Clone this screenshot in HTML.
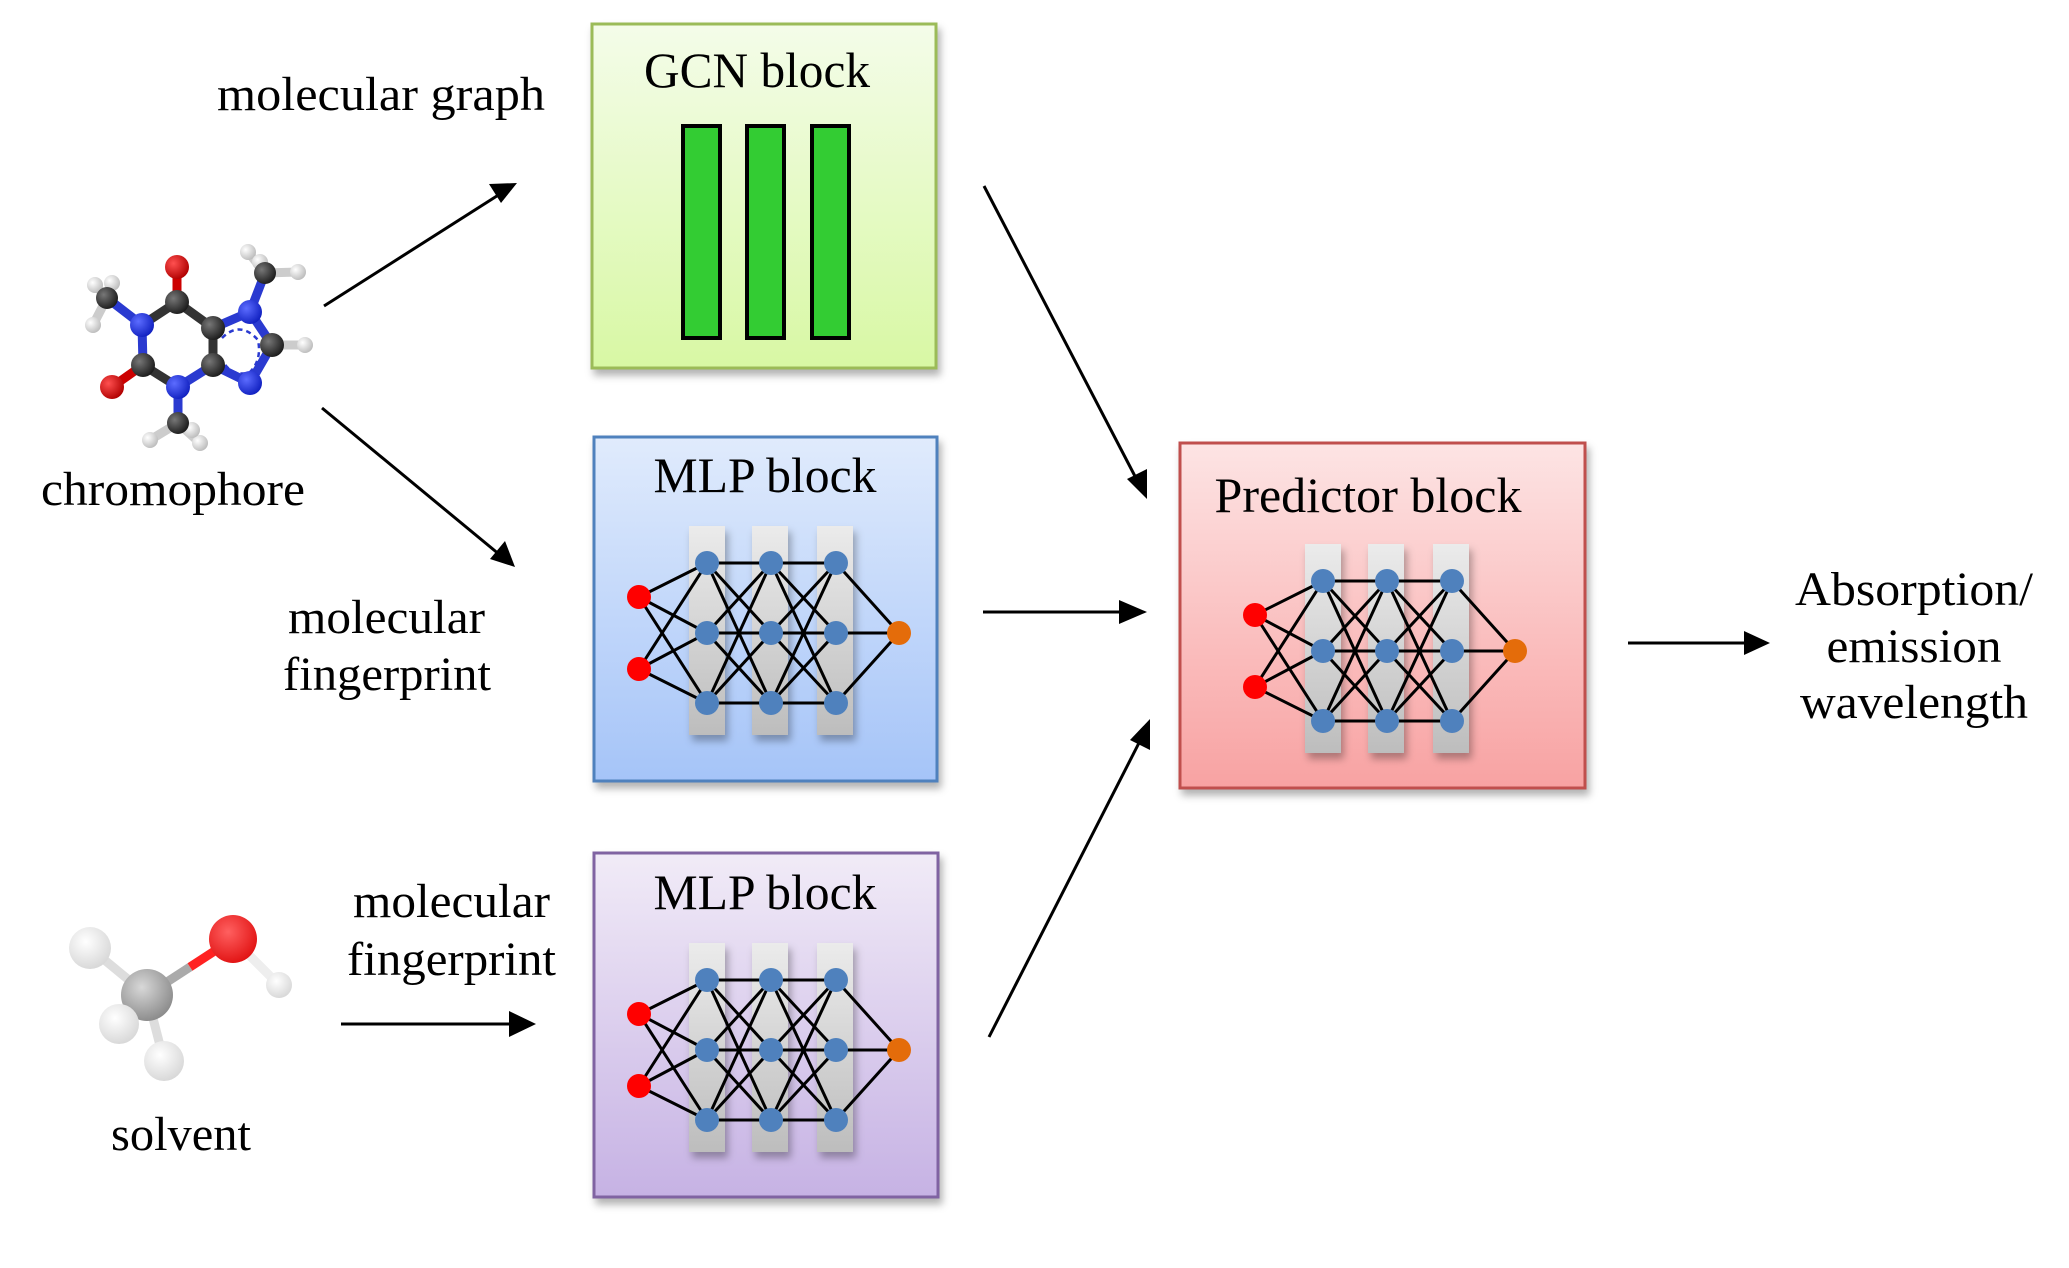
<!DOCTYPE html>
<html><head><meta charset="utf-8"><style>
html,body{margin:0;padding:0;background:#fff}
svg{display:block}
text{font-family:"Liberation Serif",serif;fill:#000}
</style></head><body>
<svg width="2069" height="1268" viewBox="0 0 2069 1268" xmlns="http://www.w3.org/2000/svg">
<defs>
<linearGradient id="gG" x1="0" y1="0" x2="0" y2="1"><stop offset="0" stop-color="#f4fce9"/><stop offset="1" stop-color="#d8f8a4"/></linearGradient>
<linearGradient id="gB" x1="0" y1="0" x2="0" y2="1"><stop offset="0" stop-color="#e0ebfc"/><stop offset="1" stop-color="#a5c4f8"/></linearGradient>
<linearGradient id="gP" x1="0" y1="0" x2="0" y2="1"><stop offset="0" stop-color="#f1ebf7"/><stop offset="1" stop-color="#c6b2e4"/></linearGradient>
<linearGradient id="gR" x1="0" y1="0" x2="0" y2="1"><stop offset="0" stop-color="#fde4e4"/><stop offset="1" stop-color="#f8a2a2"/></linearGradient>
<linearGradient id="gC" x1="0" y1="0" x2="0" y2="1"><stop offset="0" stop-color="#ebebeb"/><stop offset="1" stop-color="#bdbdbd"/></linearGradient>
<radialGradient id="aC" cx="0.35" cy="0.35" r="0.7"><stop offset="0" stop-color="#777"/><stop offset="1" stop-color="#1a1a1a"/></radialGradient>
<radialGradient id="aN" cx="0.35" cy="0.35" r="0.7"><stop offset="0" stop-color="#5c6cff"/><stop offset="1" stop-color="#1020c0"/></radialGradient>
<radialGradient id="aO" cx="0.35" cy="0.35" r="0.7"><stop offset="0" stop-color="#ff5050"/><stop offset="1" stop-color="#b00000"/></radialGradient>
<radialGradient id="aH" cx="0.35" cy="0.35" r="0.7"><stop offset="0" stop-color="#fff"/><stop offset="1" stop-color="#bbb"/></radialGradient>
<radialGradient id="sO" cx="0.4" cy="0.35" r="0.7"><stop offset="0" stop-color="#ff6060"/><stop offset="1" stop-color="#e01010"/></radialGradient>
<radialGradient id="sC" cx="0.4" cy="0.35" r="0.7"><stop offset="0" stop-color="#d8d8d8"/><stop offset="1" stop-color="#888"/></radialGradient>
<radialGradient id="sH" cx="0.4" cy="0.35" r="0.7"><stop offset="0" stop-color="#fff"/><stop offset="1" stop-color="#d6d6d6"/></radialGradient>
<filter id="sh" x="-10%" y="-10%" width="130%" height="130%"><feDropShadow dx="3" dy="6" stdDeviation="4" flood-color="#000" flood-opacity="0.3"/></filter>
<g id="nn">
  <g filter="url(#sh)">
  <rect x="50" y="0" width="36" height="209" fill="url(#gC)"/>
  <rect x="113" y="0" width="36" height="209" fill="url(#gC)"/>
  <rect x="178" y="0" width="36" height="209" fill="url(#gC)"/>
  </g>
  <g stroke="#000" stroke-width="3">
  <line x1="0" y1="71" x2="68" y2="37"/><line x1="0" y1="71" x2="68" y2="107"/><line x1="0" y1="71" x2="68" y2="177"/>
  <line x1="0" y1="143" x2="68" y2="37"/><line x1="0" y1="143" x2="68" y2="107"/><line x1="0" y1="143" x2="68" y2="177"/>
  <line x1="68" y1="37" x2="132" y2="37"/><line x1="68" y1="37" x2="132" y2="107"/><line x1="68" y1="37" x2="132" y2="177"/>
  <line x1="68" y1="107" x2="132" y2="37"/><line x1="68" y1="107" x2="132" y2="107"/><line x1="68" y1="107" x2="132" y2="177"/>
  <line x1="68" y1="177" x2="132" y2="37"/><line x1="68" y1="177" x2="132" y2="107"/><line x1="68" y1="177" x2="132" y2="177"/>
  <line x1="132" y1="37" x2="197" y2="37"/><line x1="132" y1="37" x2="197" y2="107"/><line x1="132" y1="37" x2="197" y2="177"/>
  <line x1="132" y1="107" x2="197" y2="37"/><line x1="132" y1="107" x2="197" y2="107"/><line x1="132" y1="107" x2="197" y2="177"/>
  <line x1="132" y1="177" x2="197" y2="37"/><line x1="132" y1="177" x2="197" y2="107"/><line x1="132" y1="177" x2="197" y2="177"/>
  <line x1="197" y1="37" x2="260" y2="107"/><line x1="197" y1="107" x2="260" y2="107"/><line x1="197" y1="177" x2="260" y2="107"/>
  </g>
  <g fill="#4f81bd">
  <circle cx="68" cy="37" r="12"/><circle cx="68" cy="107" r="12"/><circle cx="68" cy="177" r="12"/>
  <circle cx="132" cy="37" r="12"/><circle cx="132" cy="107" r="12"/><circle cx="132" cy="177" r="12"/>
  <circle cx="197" cy="37" r="12"/><circle cx="197" cy="107" r="12"/><circle cx="197" cy="177" r="12"/>
  </g>
  <circle cx="0" cy="71" r="12" fill="#f00"/><circle cx="0" cy="143" r="12" fill="#f00"/>
  <circle cx="260" cy="107" r="12" fill="#e46c0a"/>
</g>
</defs>

<rect x="592" y="24" width="344" height="344" fill="url(#gG)" stroke="#9bbb59" stroke-width="3" filter="url(#sh)"/>
<rect x="594" y="437" width="343" height="344" fill="url(#gB)" stroke="#4f81bd" stroke-width="3" filter="url(#sh)"/>
<rect x="594" y="853" width="344" height="344" fill="url(#gP)" stroke="#8064a2" stroke-width="3" filter="url(#sh)"/>
<rect x="1180" y="443" width="405" height="345" fill="url(#gR)" stroke="#c0504d" stroke-width="3" filter="url(#sh)"/>

<g fill="#33cc33" stroke="#000" stroke-width="4">
<rect x="683" y="126" width="37" height="212"/>
<rect x="747" y="126" width="37" height="212"/>
<rect x="812" y="126" width="37" height="212"/>
</g>

<use href="#nn" x="639" y="526"/>
<use href="#nn" x="639" y="943"/>
<use href="#nn" x="1255" y="544"/>

<text x="757" y="87" font-size="50" text-anchor="middle" textLength="226" lengthAdjust="spacingAndGlyphs">GCN block</text>
<text x="765" y="492" font-size="50" text-anchor="middle" textLength="223" lengthAdjust="spacingAndGlyphs">MLP block</text>
<text x="765" y="909" font-size="50" text-anchor="middle" textLength="223" lengthAdjust="spacingAndGlyphs">MLP block</text>
<text x="1368" y="512" font-size="50" text-anchor="middle" textLength="307" lengthAdjust="spacingAndGlyphs">Predictor block</text>

<text x="217" y="110" font-size="48" textLength="328" lengthAdjust="spacingAndGlyphs">molecular  graph</text>
<text x="41" y="505" font-size="48" textLength="264" lengthAdjust="spacingAndGlyphs">chromophore</text>
<text x="288" y="633" font-size="48" textLength="197" lengthAdjust="spacingAndGlyphs">molecular</text>
<text x="283" y="690" font-size="48" textLength="208" lengthAdjust="spacingAndGlyphs">fingerprint</text>
<text x="353" y="917" font-size="48" textLength="197" lengthAdjust="spacingAndGlyphs">molecular</text>
<text x="347" y="975" font-size="48" textLength="209" lengthAdjust="spacingAndGlyphs">fingerprint</text>
<text x="111" y="1150" font-size="48" textLength="140" lengthAdjust="spacingAndGlyphs">solvent</text>
<text x="1914" y="605" font-size="48" text-anchor="middle" textLength="238" lengthAdjust="spacingAndGlyphs">Absorption/</text>
<text x="1914" y="662" font-size="48" text-anchor="middle" textLength="175" lengthAdjust="spacingAndGlyphs">emission</text>
<text x="1914" y="718" font-size="48" text-anchor="middle" textLength="228" lengthAdjust="spacingAndGlyphs">wavelength</text>

<g stroke="#000" stroke-width="3" fill="none">
<line x1="324" y1="306" x2="500" y2="194"/>
<line x1="322" y1="408" x2="500" y2="555"/>
<line x1="341" y1="1024" x2="512" y2="1024"/>
<line x1="984" y1="186" x2="1138" y2="482"/>
<line x1="983" y1="612" x2="1130" y2="612"/>
<line x1="989" y1="1037" x2="1142" y2="737"/>
<line x1="1628" y1="643" x2="1752" y2="643"/>
</g>
<g fill="#000">
<polygon points="517,183 489,184 501,203"/>
<polygon points="515,567 505,541 490,559"/>
<polygon points="536,1024 509,1011 509,1037"/>
<polygon points="1147,499 1127,479 1147,469"/>
<polygon points="1147,612 1119,600 1119,624"/>
<polygon points="1150,719 1130,740 1150,750"/>
<polygon points="1770,643 1744,631 1744,655"/>
</g>

<g stroke-width="9" stroke-linecap="round">
<line x1="177" y1="267" x2="177" y2="302" stroke="#c00"/>
<line x1="177" y1="302" x2="142" y2="325" stroke="#333"/>
<line x1="142" y1="325" x2="107" y2="298" stroke="#2a3ad0"/>
<line x1="107" y1="298" x2="93" y2="325" stroke="#ccc"/>
<line x1="107" y1="298" x2="95" y2="285" stroke="#ccc"/>
<line x1="107" y1="298" x2="112" y2="283" stroke="#ccc"/>
<line x1="142" y1="325" x2="143" y2="365" stroke="#2a3ad0"/>
<line x1="143" y1="365" x2="112" y2="387" stroke="#c00"/>
<line x1="143" y1="365" x2="178" y2="387" stroke="#333"/>
<line x1="178" y1="387" x2="178" y2="423" stroke="#2a3ad0"/>
<line x1="178" y1="423" x2="150" y2="440" stroke="#ccc"/>
<line x1="178" y1="423" x2="200" y2="443" stroke="#ccc"/>
<line x1="178" y1="387" x2="213" y2="365" stroke="#2a3ad0"/>
<line x1="213" y1="365" x2="213" y2="328" stroke="#333"/>
<line x1="213" y1="328" x2="177" y2="302" stroke="#333"/>
<line x1="213" y1="328" x2="250" y2="312" stroke="#2a3ad0"/>
<line x1="250" y1="312" x2="265" y2="273" stroke="#2a3ad0"/>
<line x1="265" y1="273" x2="248" y2="252" stroke="#ccc"/>
<line x1="265" y1="273" x2="298" y2="272" stroke="#ccc"/>
<line x1="250" y1="312" x2="272" y2="345" stroke="#2a3ad0"/>
<line x1="272" y1="345" x2="305" y2="345" stroke="#ccc"/>
<line x1="272" y1="345" x2="250" y2="383" stroke="#2a3ad0"/>
<line x1="250" y1="383" x2="213" y2="365" stroke="#2a3ad0"/>
</g>
<path d="M222,338 Q240,320 258,340 Q262,360 250,372 Q232,378 222,360" fill="none" stroke="#2a3ad0" stroke-width="2.5" stroke-dasharray="5,4"/>
<g>
<circle cx="95" cy="285" r="8" fill="url(#aH)"/><circle cx="112" cy="283" r="8" fill="url(#aH)"/><circle cx="93" cy="325" r="8" fill="url(#aH)"/>
<circle cx="248" cy="252" r="8" fill="url(#aH)"/><circle cx="260" cy="262" r="8" fill="url(#aH)"/><circle cx="298" cy="272" r="8" fill="url(#aH)"/>
<circle cx="150" cy="440" r="8" fill="url(#aH)"/><circle cx="200" cy="443" r="8" fill="url(#aH)"/><circle cx="192" cy="430" r="8" fill="url(#aH)"/>
<circle cx="305" cy="345" r="8" fill="url(#aH)"/>
<circle cx="107" cy="298" r="11" fill="url(#aC)"/><circle cx="178" cy="423" r="11" fill="url(#aC)"/><circle cx="265" cy="273" r="11" fill="url(#aC)"/>
<circle cx="177" cy="302" r="12" fill="url(#aC)"/><circle cx="143" cy="365" r="12" fill="url(#aC)"/>
<circle cx="213" cy="365" r="12" fill="url(#aC)"/><circle cx="213" cy="328" r="12" fill="url(#aC)"/><circle cx="272" cy="345" r="12" fill="url(#aC)"/>
<circle cx="142" cy="325" r="12" fill="url(#aN)"/><circle cx="178" cy="387" r="12" fill="url(#aN)"/>
<circle cx="250" cy="312" r="12" fill="url(#aN)"/><circle cx="250" cy="383" r="12" fill="url(#aN)"/>
<circle cx="177" cy="267" r="12" fill="url(#aO)"/><circle cx="112" cy="387" r="12" fill="url(#aO)"/>
</g>

<g stroke-width="9">
<line x1="147" y1="995" x2="190" y2="967" stroke="#aaa"/>
<line x1="190" y1="967" x2="233" y2="939" stroke="#f22"/>
<line x1="233" y1="939" x2="279" y2="985" stroke="#eee"/>
<line x1="147" y1="995" x2="90" y2="948" stroke="#ddd"/>
<line x1="147" y1="995" x2="164" y2="1061" stroke="#ddd"/>
</g>
<circle cx="90" cy="948" r="21" fill="url(#sH)"/>
<circle cx="279" cy="985" r="13" fill="url(#sH)"/>
<circle cx="233" cy="939" r="24" fill="url(#sO)"/>
<circle cx="147" cy="995" r="26" fill="url(#sC)"/>
<circle cx="119" cy="1024" r="20" fill="url(#sH)"/>
<circle cx="164" cy="1061" r="20" fill="url(#sH)"/>
</svg>
</body></html>
